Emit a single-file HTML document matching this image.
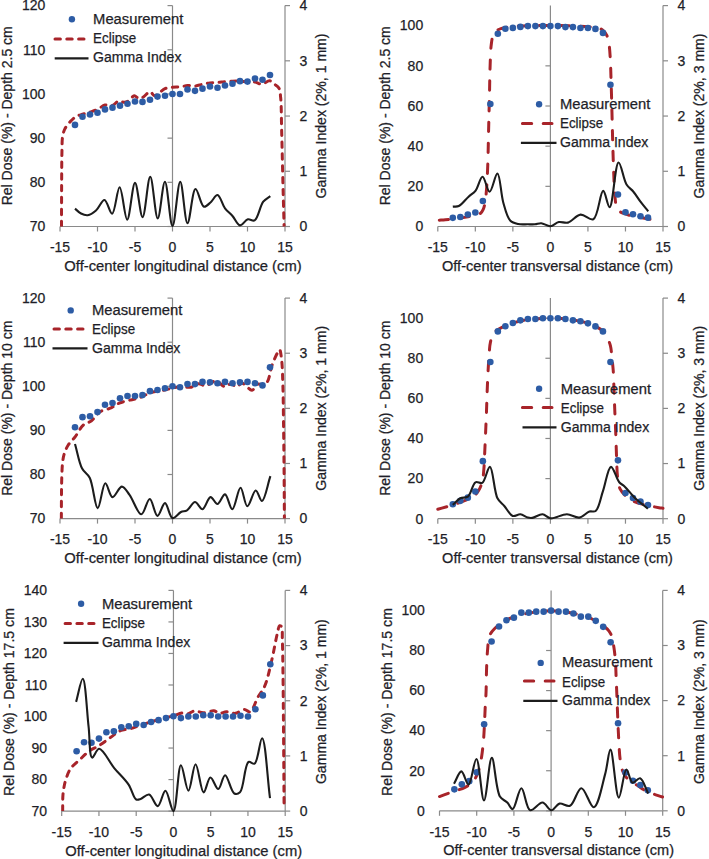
<!DOCTYPE html>
<html><head><meta charset="utf-8"><style>
html,body{margin:0;padding:0;background:#fff;}
svg{display:block;}
text{font-family:"Liberation Sans",sans-serif;stroke:#1e1e28;stroke-width:0.25px;}
</style></head><body>
<svg width="709" height="859" viewBox="0 0 709 859">
<rect width="709" height="859" fill="#fff"/>
<line x1="60.00" y1="226.50" x2="285.00" y2="226.50" stroke="#8a8a8a" stroke-width="1.2"/>
<line x1="172.50" y1="5.60" x2="172.50" y2="226.50" stroke="#8a8a8a" stroke-width="1.2"/>
<line x1="285.00" y1="5.60" x2="285.00" y2="226.50" stroke="#8a8a8a" stroke-width="1.2"/>
<line x1="60.00" y1="226.50" x2="60.00" y2="231.50" stroke="#8a8a8a" stroke-width="1.2"/>
<line x1="97.50" y1="226.50" x2="97.50" y2="231.50" stroke="#8a8a8a" stroke-width="1.2"/>
<line x1="135.00" y1="226.50" x2="135.00" y2="231.50" stroke="#8a8a8a" stroke-width="1.2"/>
<line x1="172.50" y1="226.50" x2="172.50" y2="231.50" stroke="#8a8a8a" stroke-width="1.2"/>
<line x1="210.00" y1="226.50" x2="210.00" y2="231.50" stroke="#8a8a8a" stroke-width="1.2"/>
<line x1="247.50" y1="226.50" x2="247.50" y2="231.50" stroke="#8a8a8a" stroke-width="1.2"/>
<line x1="285.00" y1="226.50" x2="285.00" y2="231.50" stroke="#8a8a8a" stroke-width="1.2"/>
<line x1="167.50" y1="226.50" x2="172.50" y2="226.50" stroke="#8a8a8a" stroke-width="1.2"/>
<line x1="167.50" y1="182.32" x2="172.50" y2="182.32" stroke="#8a8a8a" stroke-width="1.2"/>
<line x1="167.50" y1="138.14" x2="172.50" y2="138.14" stroke="#8a8a8a" stroke-width="1.2"/>
<line x1="167.50" y1="93.96" x2="172.50" y2="93.96" stroke="#8a8a8a" stroke-width="1.2"/>
<line x1="167.50" y1="49.78" x2="172.50" y2="49.78" stroke="#8a8a8a" stroke-width="1.2"/>
<line x1="167.50" y1="5.60" x2="172.50" y2="5.60" stroke="#8a8a8a" stroke-width="1.2"/>
<line x1="285.00" y1="226.50" x2="290.00" y2="226.50" stroke="#8a8a8a" stroke-width="1.2"/>
<line x1="285.00" y1="171.28" x2="290.00" y2="171.28" stroke="#8a8a8a" stroke-width="1.2"/>
<line x1="285.00" y1="116.05" x2="290.00" y2="116.05" stroke="#8a8a8a" stroke-width="1.2"/>
<line x1="285.00" y1="60.82" x2="290.00" y2="60.82" stroke="#8a8a8a" stroke-width="1.2"/>
<line x1="285.00" y1="5.60" x2="290.00" y2="5.60" stroke="#8a8a8a" stroke-width="1.2"/>
<text x="45.40" y="231.30" text-anchor="end" font-size="14" fill="#1e1e28">70</text>
<text x="45.40" y="187.12" text-anchor="end" font-size="14" fill="#1e1e28">80</text>
<text x="45.40" y="142.94" text-anchor="end" font-size="14" fill="#1e1e28">90</text>
<text x="45.40" y="98.76" text-anchor="end" font-size="14" fill="#1e1e28">100</text>
<text x="45.40" y="54.58" text-anchor="end" font-size="14" fill="#1e1e28">110</text>
<text x="45.40" y="10.40" text-anchor="end" font-size="14" fill="#1e1e28">120</text>
<text x="303.50" y="231.30" text-anchor="middle" font-size="14" fill="#1e1e28">0</text>
<text x="303.50" y="176.08" text-anchor="middle" font-size="14" fill="#1e1e28">1</text>
<text x="303.50" y="120.85" text-anchor="middle" font-size="14" fill="#1e1e28">2</text>
<text x="303.50" y="65.62" text-anchor="middle" font-size="14" fill="#1e1e28">3</text>
<text x="303.50" y="10.40" text-anchor="middle" font-size="14" fill="#1e1e28">4</text>
<text x="60.00" y="252.20" text-anchor="middle" font-size="14" fill="#1e1e28">-15</text>
<text x="97.50" y="252.20" text-anchor="middle" font-size="14" fill="#1e1e28">-10</text>
<text x="135.00" y="252.20" text-anchor="middle" font-size="14" fill="#1e1e28">-5</text>
<text x="172.50" y="252.20" text-anchor="middle" font-size="14" fill="#1e1e28">0</text>
<text x="210.00" y="252.20" text-anchor="middle" font-size="14" fill="#1e1e28">5</text>
<text x="247.50" y="252.20" text-anchor="middle" font-size="14" fill="#1e1e28">10</text>
<text x="285.00" y="252.20" text-anchor="middle" font-size="14" fill="#1e1e28">15</text>
<text x="64.30" y="270.90" text-anchor="start" font-size="14" textLength="237.4" lengthAdjust="spacingAndGlyphs" fill="#1e1e28">Off-center longitudinal distance (cm)</text>
<text x="0" y="0" transform="translate(12.10,205.30) rotate(-90)" text-anchor="start" font-size="14" textLength="179.1" lengthAdjust="spacingAndGlyphs" fill="#1e1e28">Rel Dose (%) - Depth 2.5 cm</text>
<text x="0" y="0" transform="translate(326.00,198.40) rotate(-90)" text-anchor="start" font-size="14" textLength="164.9" lengthAdjust="spacingAndGlyphs" fill="#1e1e28">Gamma Index (2%, 1 mm)</text>
<clipPath id="cliptl"><rect x="57.00" y="2.60" width="231.00" height="223.90"/></clipPath>
<path d="M61.50,226.50 C61.55,211.77 61.56,195.74 61.65,182.32 C61.72,171.09 61.72,159.86 61.95,151.39 C62.11,145.49 61.93,140.49 62.62,136.37 C63.13,133.40 63.66,131.26 64.88,128.86 C66.20,126.24 68.49,123.49 70.50,121.35 C72.29,119.44 74.13,117.68 76.20,116.49 C78.15,115.37 80.30,114.99 82.50,114.28 C84.88,113.52 87.51,112.88 90.00,112.07 C92.51,111.26 95.05,110.56 97.50,109.42 C100.06,108.23 102.40,105.63 105.00,105.00 C107.41,104.42 110.25,106.11 112.50,105.45 C114.74,104.78 116.39,101.47 118.50,101.03 C120.41,100.62 122.66,102.50 124.50,102.35 C126.13,102.23 127.53,101.51 129.00,100.59 C130.79,99.46 132.50,95.92 134.25,95.73 C135.75,95.57 137.21,98.19 138.75,98.38 C140.21,98.56 141.68,97.86 143.25,97.05 C145.37,95.96 148.00,91.69 150.00,91.75 C151.67,91.80 152.94,95.58 154.50,95.73 C155.95,95.87 157.42,94.12 159.00,93.08 C160.89,91.83 162.76,89.62 165.00,88.66 C167.26,87.69 169.99,87.63 172.50,87.33 C174.99,87.04 177.51,87.18 180.00,86.89 C182.51,86.60 184.99,85.71 187.50,85.57 C189.99,85.42 192.52,86.22 195.00,86.01 C197.52,85.79 199.99,84.76 202.50,84.24 C204.99,83.73 207.49,83.21 210.00,82.91 C212.49,82.62 215.00,82.69 217.50,82.47 C220.00,82.25 222.50,81.81 225.00,81.59 C227.50,81.37 230.00,81.22 232.50,81.15 C235.00,81.07 237.50,81.00 240.00,81.15 C242.50,81.29 245.00,81.88 247.50,82.03 C250.00,82.18 252.60,81.65 255.00,82.03 C257.34,82.40 259.44,84.36 261.75,84.24 C264.30,84.11 267.37,80.47 269.62,80.71 C271.51,80.90 272.94,82.99 274.50,84.24 C276.06,85.49 277.97,86.38 279.00,88.22 C280.29,90.51 280.23,93.46 280.65,97.49 C281.42,104.91 281.30,117.35 281.62,129.30 C282.05,144.73 282.47,165.45 282.90,182.32 C283.29,197.72 283.70,211.77 284.10,226.50" fill="none" stroke="#a8242a" stroke-width="3" stroke-linecap="round" stroke-dasharray="5.4 6.4" clip-path="url(#cliptl)"/>
<circle cx="75.00" cy="124.89" r="3.3" fill="#2d5ca5"/>
<circle cx="82.50" cy="116.71" r="3.3" fill="#2d5ca5"/>
<circle cx="90.00" cy="114.50" r="3.3" fill="#2d5ca5"/>
<circle cx="97.50" cy="112.78" r="3.3" fill="#2d5ca5"/>
<circle cx="105.00" cy="109.42" r="3.3" fill="#2d5ca5"/>
<circle cx="112.50" cy="107.66" r="3.3" fill="#2d5ca5"/>
<circle cx="120.00" cy="105.67" r="3.3" fill="#2d5ca5"/>
<circle cx="127.50" cy="103.68" r="3.3" fill="#2d5ca5"/>
<circle cx="135.00" cy="101.47" r="3.3" fill="#2d5ca5"/>
<circle cx="142.50" cy="101.91" r="3.3" fill="#2d5ca5"/>
<circle cx="150.00" cy="99.70" r="3.3" fill="#2d5ca5"/>
<circle cx="157.50" cy="96.61" r="3.3" fill="#2d5ca5"/>
<circle cx="165.00" cy="95.73" r="3.3" fill="#2d5ca5"/>
<circle cx="172.50" cy="93.96" r="3.3" fill="#2d5ca5"/>
<circle cx="180.00" cy="93.96" r="3.3" fill="#2d5ca5"/>
<circle cx="187.50" cy="89.54" r="3.3" fill="#2d5ca5"/>
<circle cx="195.00" cy="90.87" r="3.3" fill="#2d5ca5"/>
<circle cx="202.50" cy="88.66" r="3.3" fill="#2d5ca5"/>
<circle cx="210.00" cy="86.45" r="3.3" fill="#2d5ca5"/>
<circle cx="217.50" cy="87.77" r="3.3" fill="#2d5ca5"/>
<circle cx="225.00" cy="85.57" r="3.3" fill="#2d5ca5"/>
<circle cx="232.50" cy="83.80" r="3.3" fill="#2d5ca5"/>
<circle cx="240.00" cy="81.15" r="3.3" fill="#2d5ca5"/>
<circle cx="247.50" cy="81.59" r="3.3" fill="#2d5ca5"/>
<circle cx="255.00" cy="78.50" r="3.3" fill="#2d5ca5"/>
<circle cx="262.50" cy="79.82" r="3.3" fill="#2d5ca5"/>
<circle cx="270.00" cy="74.96" r="3.3" fill="#2d5ca5"/>
<path d="M75.00,208.61 C77.00,210.25 78.81,212.43 81.00,213.52 C83.08,214.56 85.45,215.50 87.75,215.18 C90.44,214.81 93.42,212.67 96.00,210.48 C99.07,207.87 101.87,199.77 104.47,199.99 C107.29,200.24 109.86,214.06 112.12,213.80 C115.12,213.45 117.22,187.24 119.62,187.29 C122.26,187.35 124.71,219.62 127.20,219.60 C129.84,219.57 132.39,182.88 135.00,182.87 C137.52,182.86 140.13,217.15 142.57,217.11 C145.22,217.07 147.72,176.79 150.22,176.80 C152.77,176.81 155.20,218.36 157.72,218.38 C160.10,218.40 162.57,181.74 164.93,181.77 C167.51,181.80 169.95,225.94 172.50,225.95 C175.05,225.95 177.69,181.77 180.23,181.77 C182.68,181.77 184.81,223.11 187.50,223.19 C189.96,223.26 192.23,189.30 195.53,188.95 C197.98,188.68 200.68,205.70 203.93,206.62 C206.02,207.21 208.59,204.01 210.75,202.20 C213.13,200.21 215.36,194.76 217.50,195.02 C220.16,195.34 222.24,204.59 225.00,208.28 C227.32,211.37 230.06,213.24 232.50,216.01 C235.07,218.93 237.30,225.07 240.00,225.40 C242.46,225.69 245.20,220.00 247.88,219.32 C250.09,218.76 252.59,221.51 254.62,220.43 C258.16,218.55 259.96,205.82 263.25,201.65 C265.42,198.90 267.95,197.97 270.30,196.13" fill="none" stroke="#1c1c1c" stroke-width="2.1" stroke-linejoin="round"/>
<circle cx="71.90" cy="19.20" r="3.2" fill="#2d5ca5"/>
<line x1="55.00" y1="38.90" x2="84.80" y2="38.90" stroke="#a8242a" stroke-width="3" stroke-linecap="round" stroke-dasharray="5.4 6.4"/>
<line x1="54.70" y1="58.30" x2="88.50" y2="58.30" stroke="#1c1c1c" stroke-width="2.2"/>
<text x="93.10" y="23.60" text-anchor="start" font-size="14" textLength="90.3" lengthAdjust="spacingAndGlyphs" fill="#1e1e28">Measurement</text>
<text x="93.10" y="43.00" text-anchor="start" font-size="14" textLength="43.1" lengthAdjust="spacingAndGlyphs" fill="#1e1e28">Eclipse</text>
<text x="93.10" y="61.60" text-anchor="start" font-size="14" textLength="88.4" lengthAdjust="spacingAndGlyphs" fill="#1e1e28">Gamma Index</text>
<line x1="437.80" y1="226.50" x2="663.00" y2="226.50" stroke="#8a8a8a" stroke-width="1.2"/>
<line x1="550.40" y1="5.60" x2="550.40" y2="226.50" stroke="#8a8a8a" stroke-width="1.2"/>
<line x1="663.00" y1="5.60" x2="663.00" y2="226.50" stroke="#8a8a8a" stroke-width="1.2"/>
<line x1="437.80" y1="226.50" x2="437.80" y2="231.50" stroke="#8a8a8a" stroke-width="1.2"/>
<line x1="475.33" y1="226.50" x2="475.33" y2="231.50" stroke="#8a8a8a" stroke-width="1.2"/>
<line x1="512.87" y1="226.50" x2="512.87" y2="231.50" stroke="#8a8a8a" stroke-width="1.2"/>
<line x1="550.40" y1="226.50" x2="550.40" y2="231.50" stroke="#8a8a8a" stroke-width="1.2"/>
<line x1="587.93" y1="226.50" x2="587.93" y2="231.50" stroke="#8a8a8a" stroke-width="1.2"/>
<line x1="625.47" y1="226.50" x2="625.47" y2="231.50" stroke="#8a8a8a" stroke-width="1.2"/>
<line x1="663.00" y1="226.50" x2="663.00" y2="231.50" stroke="#8a8a8a" stroke-width="1.2"/>
<line x1="545.40" y1="226.50" x2="550.40" y2="226.50" stroke="#8a8a8a" stroke-width="1.2"/>
<line x1="545.40" y1="186.34" x2="550.40" y2="186.34" stroke="#8a8a8a" stroke-width="1.2"/>
<line x1="545.40" y1="146.17" x2="550.40" y2="146.17" stroke="#8a8a8a" stroke-width="1.2"/>
<line x1="545.40" y1="106.01" x2="550.40" y2="106.01" stroke="#8a8a8a" stroke-width="1.2"/>
<line x1="545.40" y1="65.85" x2="550.40" y2="65.85" stroke="#8a8a8a" stroke-width="1.2"/>
<line x1="545.40" y1="25.68" x2="550.40" y2="25.68" stroke="#8a8a8a" stroke-width="1.2"/>
<line x1="663.00" y1="226.50" x2="668.00" y2="226.50" stroke="#8a8a8a" stroke-width="1.2"/>
<line x1="663.00" y1="171.28" x2="668.00" y2="171.28" stroke="#8a8a8a" stroke-width="1.2"/>
<line x1="663.00" y1="116.05" x2="668.00" y2="116.05" stroke="#8a8a8a" stroke-width="1.2"/>
<line x1="663.00" y1="60.82" x2="668.00" y2="60.82" stroke="#8a8a8a" stroke-width="1.2"/>
<line x1="663.00" y1="5.60" x2="668.00" y2="5.60" stroke="#8a8a8a" stroke-width="1.2"/>
<text x="423.20" y="231.30" text-anchor="end" font-size="14" fill="#1e1e28">0</text>
<text x="423.20" y="191.14" text-anchor="end" font-size="14" fill="#1e1e28">20</text>
<text x="423.20" y="150.97" text-anchor="end" font-size="14" fill="#1e1e28">40</text>
<text x="423.20" y="110.81" text-anchor="end" font-size="14" fill="#1e1e28">60</text>
<text x="423.20" y="70.65" text-anchor="end" font-size="14" fill="#1e1e28">80</text>
<text x="423.20" y="30.48" text-anchor="end" font-size="14" fill="#1e1e28">100</text>
<text x="681.50" y="231.30" text-anchor="middle" font-size="14" fill="#1e1e28">0</text>
<text x="681.50" y="176.08" text-anchor="middle" font-size="14" fill="#1e1e28">1</text>
<text x="681.50" y="120.85" text-anchor="middle" font-size="14" fill="#1e1e28">2</text>
<text x="681.50" y="65.62" text-anchor="middle" font-size="14" fill="#1e1e28">3</text>
<text x="681.50" y="10.40" text-anchor="middle" font-size="14" fill="#1e1e28">4</text>
<text x="437.80" y="252.20" text-anchor="middle" font-size="14" fill="#1e1e28">-15</text>
<text x="475.33" y="252.20" text-anchor="middle" font-size="14" fill="#1e1e28">-10</text>
<text x="512.87" y="252.20" text-anchor="middle" font-size="14" fill="#1e1e28">-5</text>
<text x="550.40" y="252.20" text-anchor="middle" font-size="14" fill="#1e1e28">0</text>
<text x="587.93" y="252.20" text-anchor="middle" font-size="14" fill="#1e1e28">5</text>
<text x="625.47" y="252.20" text-anchor="middle" font-size="14" fill="#1e1e28">10</text>
<text x="663.00" y="252.20" text-anchor="middle" font-size="14" fill="#1e1e28">15</text>
<text x="442.00" y="270.90" text-anchor="start" font-size="14" textLength="231.2" lengthAdjust="spacingAndGlyphs" fill="#1e1e28">Off-center transversal distance (cm)</text>
<text x="0" y="0" transform="translate(389.90,205.30) rotate(-90)" text-anchor="start" font-size="14" textLength="179.1" lengthAdjust="spacingAndGlyphs" fill="#1e1e28">Rel Dose (%) - Depth 2.5 cm</text>
<text x="0" y="0" transform="translate(704.00,198.40) rotate(-90)" text-anchor="start" font-size="14" textLength="164.9" lengthAdjust="spacingAndGlyphs" fill="#1e1e28">Gamma Index (2%, 3 mm)</text>
<clipPath id="cliptr"><rect x="434.80" y="2.60" width="231.20" height="223.90"/></clipPath>
<path d="M439.30,220.17 C441.30,220.04 443.19,219.94 445.31,219.77 C447.67,219.58 450.31,219.35 452.81,219.07 C455.32,218.79 457.82,218.43 460.32,218.07 C462.82,217.70 465.33,217.33 467.83,216.86 C470.33,216.39 473.08,215.92 475.33,215.25 C477.26,214.68 479.25,214.30 480.59,213.25 C481.80,212.29 482.51,210.97 483.22,209.43 C484.10,207.50 484.58,205.17 485.09,202.40 C485.81,198.54 486.18,193.56 486.59,188.34 C487.11,181.82 487.40,174.71 487.72,166.25 C488.15,154.86 488.39,138.52 488.70,126.09 C488.96,115.33 489.21,106.01 489.45,95.97 C489.68,85.93 489.77,74.99 490.12,65.85 C490.41,58.19 490.50,50.48 491.25,44.76 C491.77,40.78 492.08,37.23 493.35,34.72 C494.29,32.85 495.67,31.55 497.10,30.50 C498.44,29.52 500.15,29.01 501.61,28.49 C502.90,28.04 503.88,27.78 505.36,27.49 C507.42,27.08 509.93,26.76 512.87,26.49 C517.01,26.10 522.37,25.85 527.88,25.68 C534.63,25.47 542.89,25.45 550.40,25.48 C557.91,25.51 566.17,25.64 572.92,25.88 C578.43,26.08 583.79,26.35 587.93,26.69 C590.87,26.92 593.26,27.13 595.44,27.49 C597.14,27.77 598.57,27.89 599.94,28.49 C601.32,29.10 602.59,30.03 603.70,31.10 C604.86,32.22 605.89,33.43 606.70,35.12 C607.78,37.37 608.38,40.50 608.95,43.76 C609.67,47.85 609.89,52.59 610.23,57.81 C610.65,64.34 610.79,71.85 611.05,79.90 C611.37,89.61 611.68,101.50 611.95,112.03 C612.22,122.24 612.42,132.12 612.71,142.16 C612.99,152.20 613.30,163.02 613.68,172.28 C614.01,180.21 614.22,188.12 614.81,194.37 C615.24,199.00 615.37,203.39 616.46,206.42 C617.21,208.49 618.15,210.06 619.46,211.24 C620.69,212.35 622.38,212.79 623.97,213.45 C625.63,214.14 627.18,214.70 629.22,215.25 C631.95,216.00 635.79,216.65 638.98,217.26 C642.04,217.85 645.38,218.44 647.99,218.87 C649.97,219.20 651.49,219.40 653.24,219.67" fill="none" stroke="#a8242a" stroke-width="3" stroke-linecap="round" stroke-dasharray="9.3 11.5" clip-path="url(#cliptr)"/>
<circle cx="452.81" cy="217.86" r="3.3" fill="#2d5ca5"/>
<circle cx="460.32" cy="217.06" r="3.3" fill="#2d5ca5"/>
<circle cx="467.83" cy="214.45" r="3.3" fill="#2d5ca5"/>
<circle cx="475.33" cy="212.44" r="3.3" fill="#2d5ca5"/>
<circle cx="482.84" cy="201.00" r="3.3" fill="#2d5ca5"/>
<circle cx="490.35" cy="104.00" r="3.3" fill="#2d5ca5"/>
<circle cx="497.85" cy="33.71" r="3.3" fill="#2d5ca5"/>
<circle cx="505.36" cy="28.69" r="3.3" fill="#2d5ca5"/>
<circle cx="512.87" cy="27.89" r="3.3" fill="#2d5ca5"/>
<circle cx="520.37" cy="26.89" r="3.3" fill="#2d5ca5"/>
<circle cx="527.88" cy="26.08" r="3.3" fill="#2d5ca5"/>
<circle cx="535.39" cy="26.08" r="3.3" fill="#2d5ca5"/>
<circle cx="542.89" cy="26.08" r="3.3" fill="#2d5ca5"/>
<circle cx="550.40" cy="26.08" r="3.3" fill="#2d5ca5"/>
<circle cx="557.91" cy="26.08" r="3.3" fill="#2d5ca5"/>
<circle cx="565.41" cy="27.09" r="3.3" fill="#2d5ca5"/>
<circle cx="572.92" cy="27.09" r="3.3" fill="#2d5ca5"/>
<circle cx="580.43" cy="27.99" r="3.3" fill="#2d5ca5"/>
<circle cx="587.93" cy="27.99" r="3.3" fill="#2d5ca5"/>
<circle cx="595.44" cy="28.89" r="3.3" fill="#2d5ca5"/>
<circle cx="602.95" cy="32.91" r="3.3" fill="#2d5ca5"/>
<circle cx="610.45" cy="84.72" r="3.3" fill="#2d5ca5"/>
<circle cx="617.96" cy="194.57" r="3.3" fill="#2d5ca5"/>
<circle cx="625.47" cy="212.24" r="3.3" fill="#2d5ca5"/>
<circle cx="632.97" cy="214.25" r="3.3" fill="#2d5ca5"/>
<circle cx="640.48" cy="216.26" r="3.3" fill="#2d5ca5"/>
<circle cx="647.99" cy="217.66" r="3.3" fill="#2d5ca5"/>
<path d="M452.81,206.62 C454.82,206.43 456.75,207.01 458.82,206.07 C461.92,204.65 465.55,199.43 468.58,196.68 C471.09,194.40 473.53,193.31 475.63,190.60 C478.34,187.12 480.25,176.77 482.54,176.80 C484.91,176.82 487.23,191.75 489.60,191.71 C492.19,191.66 495.25,173.26 497.40,173.48 C500.05,173.76 500.87,194.31 503.33,202.75 C505.30,209.48 506.92,216.99 510.16,220.43 C512.37,222.75 515.26,223.36 518.12,224.01 C521.14,224.71 524.88,224.25 527.88,224.29 C530.44,224.33 532.72,224.49 535.01,224.29 C537.17,224.10 538.99,223.02 541.24,223.19 C544.02,223.39 547.45,226.43 550.40,226.22 C553.30,226.02 555.86,222.68 558.81,222.08 C561.72,221.50 564.81,223.45 567.97,222.63 C572.00,221.59 576.25,215.09 580.58,214.63 C584.69,214.19 589.84,220.93 593.26,219.32 C598.37,216.91 600.14,190.94 603.17,190.88 C605.48,190.83 607.59,207.36 609.63,207.17 C612.91,206.87 615.16,162.69 618.56,162.44 C621.00,162.26 623.33,179.40 626.52,184.53 C628.59,187.87 631.21,189.03 633.42,191.71 C635.88,194.67 638.03,198.39 640.48,201.65 C642.95,204.93 645.63,208.09 648.21,211.31" fill="none" stroke="#1c1c1c" stroke-width="2.1" stroke-linejoin="round"/>
<circle cx="539.10" cy="104.20" r="3.2" fill="#2d5ca5"/>
<line x1="522.40" y1="123.60" x2="552.00" y2="123.60" stroke="#a8242a" stroke-width="3" stroke-linecap="round" stroke-dasharray="9.3 11.5"/>
<line x1="520.90" y1="142.90" x2="556.50" y2="142.90" stroke="#1c1c1c" stroke-width="2.2"/>
<text x="560.00" y="109.20" text-anchor="start" font-size="14" textLength="90.3" lengthAdjust="spacingAndGlyphs" fill="#1e1e28">Measurement</text>
<text x="560.00" y="127.90" text-anchor="start" font-size="14" textLength="43.1" lengthAdjust="spacingAndGlyphs" fill="#1e1e28">Eclipse</text>
<text x="560.00" y="147.30" text-anchor="start" font-size="14" textLength="88.4" lengthAdjust="spacingAndGlyphs" fill="#1e1e28">Gamma Index</text>
<line x1="60.00" y1="518.60" x2="285.00" y2="518.60" stroke="#8a8a8a" stroke-width="1.2"/>
<line x1="172.50" y1="298.10" x2="172.50" y2="518.60" stroke="#8a8a8a" stroke-width="1.2"/>
<line x1="285.00" y1="298.10" x2="285.00" y2="518.60" stroke="#8a8a8a" stroke-width="1.2"/>
<line x1="60.00" y1="518.60" x2="60.00" y2="523.60" stroke="#8a8a8a" stroke-width="1.2"/>
<line x1="97.50" y1="518.60" x2="97.50" y2="523.60" stroke="#8a8a8a" stroke-width="1.2"/>
<line x1="135.00" y1="518.60" x2="135.00" y2="523.60" stroke="#8a8a8a" stroke-width="1.2"/>
<line x1="172.50" y1="518.60" x2="172.50" y2="523.60" stroke="#8a8a8a" stroke-width="1.2"/>
<line x1="210.00" y1="518.60" x2="210.00" y2="523.60" stroke="#8a8a8a" stroke-width="1.2"/>
<line x1="247.50" y1="518.60" x2="247.50" y2="523.60" stroke="#8a8a8a" stroke-width="1.2"/>
<line x1="285.00" y1="518.60" x2="285.00" y2="523.60" stroke="#8a8a8a" stroke-width="1.2"/>
<line x1="167.50" y1="518.60" x2="172.50" y2="518.60" stroke="#8a8a8a" stroke-width="1.2"/>
<line x1="167.50" y1="474.50" x2="172.50" y2="474.50" stroke="#8a8a8a" stroke-width="1.2"/>
<line x1="167.50" y1="430.40" x2="172.50" y2="430.40" stroke="#8a8a8a" stroke-width="1.2"/>
<line x1="167.50" y1="386.30" x2="172.50" y2="386.30" stroke="#8a8a8a" stroke-width="1.2"/>
<line x1="167.50" y1="342.20" x2="172.50" y2="342.20" stroke="#8a8a8a" stroke-width="1.2"/>
<line x1="167.50" y1="298.10" x2="172.50" y2="298.10" stroke="#8a8a8a" stroke-width="1.2"/>
<line x1="285.00" y1="518.60" x2="290.00" y2="518.60" stroke="#8a8a8a" stroke-width="1.2"/>
<line x1="285.00" y1="463.48" x2="290.00" y2="463.48" stroke="#8a8a8a" stroke-width="1.2"/>
<line x1="285.00" y1="408.35" x2="290.00" y2="408.35" stroke="#8a8a8a" stroke-width="1.2"/>
<line x1="285.00" y1="353.23" x2="290.00" y2="353.23" stroke="#8a8a8a" stroke-width="1.2"/>
<line x1="285.00" y1="298.10" x2="290.00" y2="298.10" stroke="#8a8a8a" stroke-width="1.2"/>
<text x="45.40" y="523.40" text-anchor="end" font-size="14" fill="#1e1e28">70</text>
<text x="45.40" y="479.30" text-anchor="end" font-size="14" fill="#1e1e28">80</text>
<text x="45.40" y="435.20" text-anchor="end" font-size="14" fill="#1e1e28">90</text>
<text x="45.40" y="391.10" text-anchor="end" font-size="14" fill="#1e1e28">100</text>
<text x="45.40" y="347.00" text-anchor="end" font-size="14" fill="#1e1e28">110</text>
<text x="45.40" y="302.90" text-anchor="end" font-size="14" fill="#1e1e28">120</text>
<text x="303.50" y="523.40" text-anchor="middle" font-size="14" fill="#1e1e28">0</text>
<text x="303.50" y="468.28" text-anchor="middle" font-size="14" fill="#1e1e28">1</text>
<text x="303.50" y="413.15" text-anchor="middle" font-size="14" fill="#1e1e28">2</text>
<text x="303.50" y="358.03" text-anchor="middle" font-size="14" fill="#1e1e28">3</text>
<text x="303.50" y="302.90" text-anchor="middle" font-size="14" fill="#1e1e28">4</text>
<text x="60.00" y="544.30" text-anchor="middle" font-size="14" fill="#1e1e28">-15</text>
<text x="97.50" y="544.30" text-anchor="middle" font-size="14" fill="#1e1e28">-10</text>
<text x="135.00" y="544.30" text-anchor="middle" font-size="14" fill="#1e1e28">-5</text>
<text x="172.50" y="544.30" text-anchor="middle" font-size="14" fill="#1e1e28">0</text>
<text x="210.00" y="544.30" text-anchor="middle" font-size="14" fill="#1e1e28">5</text>
<text x="247.50" y="544.30" text-anchor="middle" font-size="14" fill="#1e1e28">10</text>
<text x="285.00" y="544.30" text-anchor="middle" font-size="14" fill="#1e1e28">15</text>
<text x="64.30" y="563.00" text-anchor="start" font-size="14" textLength="237.4" lengthAdjust="spacingAndGlyphs" fill="#1e1e28">Off-center longitudinal distance (cm)</text>
<text x="0" y="0" transform="translate(12.10,495.80) rotate(-90)" text-anchor="start" font-size="14" textLength="175.2" lengthAdjust="spacingAndGlyphs" fill="#1e1e28">Rel Dose (%) - Depth  10 cm</text>
<text x="0" y="0" transform="translate(326.00,490.70) rotate(-90)" text-anchor="start" font-size="14" textLength="164.9" lengthAdjust="spacingAndGlyphs" fill="#1e1e28">Gamma Index (2%, 1 mm)</text>
<clipPath id="clipml"><rect x="57.00" y="295.10" width="231.00" height="223.50"/></clipPath>
<path d="M61.35,518.60 C61.40,509.78 61.39,500.07 61.50,492.14 C61.59,485.67 61.66,479.75 61.88,474.50 C62.04,470.27 62.13,466.59 62.55,463.03 C62.92,459.89 63.23,457.14 64.12,454.21 C65.08,451.11 66.46,447.80 68.25,444.95 C70.07,442.06 72.71,439.99 75.00,437.02 C77.70,433.51 80.13,427.89 83.25,425.11 C85.76,422.87 88.90,422.69 91.50,420.70 C94.45,418.43 96.49,414.01 99.75,411.88 C102.99,409.76 107.61,409.49 111.00,407.91 C114.04,406.50 116.19,404.35 119.25,403.06 C122.63,401.63 126.95,400.89 130.50,399.97 C133.66,399.15 136.44,398.84 139.50,397.77 C142.92,396.57 146.20,394.15 150.00,392.92 C154.14,391.57 159.46,391.16 163.50,390.27 C166.81,389.54 169.63,388.67 172.50,388.06 C175.10,387.52 177.24,386.93 180.00,386.74 C183.36,386.51 187.95,387.85 191.25,387.18 C194.08,386.61 196.29,383.81 198.75,383.65 C201.03,383.51 203.03,386.00 205.50,385.86 C208.65,385.67 212.69,380.79 216.00,381.01 C219.18,381.22 222.27,386.62 225.00,386.74 C227.17,386.84 229.08,383.60 231.00,383.65 C232.82,383.71 234.44,386.74 236.25,386.74 C238.18,386.74 240.05,383.11 242.25,383.21 C245.15,383.35 249.36,390.59 252.00,390.27 C254.16,390.01 255.27,384.91 257.25,384.10 C258.85,383.44 260.86,384.84 262.50,384.54 C264.10,384.23 265.70,383.87 267.00,382.33 C269.49,379.39 270.32,369.94 272.25,364.69 C273.87,360.28 276.04,355.42 277.50,352.78 C278.28,351.37 279.01,349.58 279.60,349.70 C280.58,349.90 281.11,355.64 281.62,359.84 C282.45,366.56 282.59,376.84 282.90,386.30 C283.26,397.21 283.32,409.16 283.50,421.58 C283.70,435.46 283.88,450.31 284.02,465.68 C284.18,482.52 284.27,500.96 284.40,518.60" fill="none" stroke="#a8242a" stroke-width="3" stroke-linecap="round" stroke-dasharray="5.4 6.4" clip-path="url(#clipml)"/>
<circle cx="75.00" cy="427.31" r="3.3" fill="#2d5ca5"/>
<circle cx="82.50" cy="417.17" r="3.3" fill="#2d5ca5"/>
<circle cx="90.00" cy="416.29" r="3.3" fill="#2d5ca5"/>
<circle cx="97.50" cy="412.10" r="3.3" fill="#2d5ca5"/>
<circle cx="105.00" cy="404.82" r="3.3" fill="#2d5ca5"/>
<circle cx="112.50" cy="403.06" r="3.3" fill="#2d5ca5"/>
<circle cx="120.00" cy="398.21" r="3.3" fill="#2d5ca5"/>
<circle cx="127.50" cy="396.00" r="3.3" fill="#2d5ca5"/>
<circle cx="135.00" cy="396.00" r="3.3" fill="#2d5ca5"/>
<circle cx="142.50" cy="395.12" r="3.3" fill="#2d5ca5"/>
<circle cx="150.00" cy="391.15" r="3.3" fill="#2d5ca5"/>
<circle cx="157.50" cy="390.05" r="3.3" fill="#2d5ca5"/>
<circle cx="165.00" cy="388.28" r="3.3" fill="#2d5ca5"/>
<circle cx="172.50" cy="386.30" r="3.3" fill="#2d5ca5"/>
<circle cx="180.00" cy="387.18" r="3.3" fill="#2d5ca5"/>
<circle cx="187.50" cy="384.10" r="3.3" fill="#2d5ca5"/>
<circle cx="195.00" cy="384.10" r="3.3" fill="#2d5ca5"/>
<circle cx="202.50" cy="381.89" r="3.3" fill="#2d5ca5"/>
<circle cx="210.00" cy="382.33" r="3.3" fill="#2d5ca5"/>
<circle cx="217.50" cy="383.21" r="3.3" fill="#2d5ca5"/>
<circle cx="225.00" cy="381.89" r="3.3" fill="#2d5ca5"/>
<circle cx="232.50" cy="383.21" r="3.3" fill="#2d5ca5"/>
<circle cx="240.00" cy="382.33" r="3.3" fill="#2d5ca5"/>
<circle cx="247.50" cy="381.89" r="3.3" fill="#2d5ca5"/>
<circle cx="255.00" cy="383.21" r="3.3" fill="#2d5ca5"/>
<circle cx="262.50" cy="385.42" r="3.3" fill="#2d5ca5"/>
<circle cx="270.00" cy="367.34" r="3.3" fill="#2d5ca5"/>
<path d="M75.00,444.02 C77.38,452.21 78.96,462.60 82.12,468.60 C84.28,472.69 87.51,473.53 89.70,477.81 C93.25,484.74 95.00,508.07 97.72,508.13 C100.21,508.17 102.45,483.58 105.30,483.32 C107.51,483.12 109.65,496.74 112.50,497.10 C115.21,497.44 118.90,486.65 121.88,486.63 C124.54,486.61 126.89,491.40 129.53,494.90 C133.27,499.86 137.75,514.37 141.30,514.30 C144.41,514.24 147.12,498.92 149.78,499.03 C152.51,499.14 154.73,515.69 157.43,515.84 C159.83,515.98 162.56,503.08 165.00,503.17 C167.59,503.26 169.40,517.29 172.50,518.05 C174.95,518.65 178.28,513.27 180.97,511.99 C183.05,510.99 184.99,511.51 186.97,510.33 C189.68,508.73 192.36,502.11 195.00,502.06 C197.50,502.02 200.04,509.48 202.43,509.23 C205.26,508.92 207.76,497.37 210.53,497.10 C212.78,496.88 215.15,504.13 217.43,503.99 C219.98,503.84 222.68,494.10 225.00,494.35 C227.70,494.63 229.89,509.33 232.28,509.23 C235.08,509.10 237.94,487.71 240.53,487.73 C242.91,487.75 244.66,506.01 247.28,506.20 C249.77,506.38 253.10,490.54 255.75,490.49 C257.94,490.44 259.97,501.17 261.98,500.96 C264.92,500.65 267.58,484.42 270.38,476.15" fill="none" stroke="#1c1c1c" stroke-width="2.1" stroke-linejoin="round"/>
<circle cx="70.70" cy="310.40" r="3.2" fill="#2d5ca5"/>
<line x1="54.00" y1="329.00" x2="83.00" y2="329.00" stroke="#a8242a" stroke-width="3" stroke-linecap="round" stroke-dasharray="5.4 6.4"/>
<line x1="52.50" y1="348.30" x2="87.50" y2="348.30" stroke="#1c1c1c" stroke-width="2.2"/>
<text x="92.00" y="314.70" text-anchor="start" font-size="14" textLength="90.3" lengthAdjust="spacingAndGlyphs" fill="#1e1e28">Measurement</text>
<text x="92.00" y="333.90" text-anchor="start" font-size="14" textLength="43.1" lengthAdjust="spacingAndGlyphs" fill="#1e1e28">Eclipse</text>
<text x="92.00" y="353.30" text-anchor="start" font-size="14" textLength="88.4" lengthAdjust="spacingAndGlyphs" fill="#1e1e28">Gamma Index</text>
<line x1="437.80" y1="518.70" x2="663.00" y2="518.70" stroke="#8a8a8a" stroke-width="1.2"/>
<line x1="550.40" y1="298.10" x2="550.40" y2="518.70" stroke="#8a8a8a" stroke-width="1.2"/>
<line x1="663.00" y1="298.10" x2="663.00" y2="518.70" stroke="#8a8a8a" stroke-width="1.2"/>
<line x1="437.80" y1="518.70" x2="437.80" y2="523.70" stroke="#8a8a8a" stroke-width="1.2"/>
<line x1="475.33" y1="518.70" x2="475.33" y2="523.70" stroke="#8a8a8a" stroke-width="1.2"/>
<line x1="512.87" y1="518.70" x2="512.87" y2="523.70" stroke="#8a8a8a" stroke-width="1.2"/>
<line x1="550.40" y1="518.70" x2="550.40" y2="523.70" stroke="#8a8a8a" stroke-width="1.2"/>
<line x1="587.93" y1="518.70" x2="587.93" y2="523.70" stroke="#8a8a8a" stroke-width="1.2"/>
<line x1="625.47" y1="518.70" x2="625.47" y2="523.70" stroke="#8a8a8a" stroke-width="1.2"/>
<line x1="663.00" y1="518.70" x2="663.00" y2="523.70" stroke="#8a8a8a" stroke-width="1.2"/>
<line x1="545.40" y1="518.70" x2="550.40" y2="518.70" stroke="#8a8a8a" stroke-width="1.2"/>
<line x1="545.40" y1="478.59" x2="550.40" y2="478.59" stroke="#8a8a8a" stroke-width="1.2"/>
<line x1="545.40" y1="438.48" x2="550.40" y2="438.48" stroke="#8a8a8a" stroke-width="1.2"/>
<line x1="545.40" y1="398.37" x2="550.40" y2="398.37" stroke="#8a8a8a" stroke-width="1.2"/>
<line x1="545.40" y1="358.26" x2="550.40" y2="358.26" stroke="#8a8a8a" stroke-width="1.2"/>
<line x1="545.40" y1="318.15" x2="550.40" y2="318.15" stroke="#8a8a8a" stroke-width="1.2"/>
<line x1="663.00" y1="518.70" x2="668.00" y2="518.70" stroke="#8a8a8a" stroke-width="1.2"/>
<line x1="663.00" y1="463.55" x2="668.00" y2="463.55" stroke="#8a8a8a" stroke-width="1.2"/>
<line x1="663.00" y1="408.40" x2="668.00" y2="408.40" stroke="#8a8a8a" stroke-width="1.2"/>
<line x1="663.00" y1="353.25" x2="668.00" y2="353.25" stroke="#8a8a8a" stroke-width="1.2"/>
<line x1="663.00" y1="298.10" x2="668.00" y2="298.10" stroke="#8a8a8a" stroke-width="1.2"/>
<text x="423.20" y="523.50" text-anchor="end" font-size="14" fill="#1e1e28">0</text>
<text x="423.20" y="483.39" text-anchor="end" font-size="14" fill="#1e1e28">20</text>
<text x="423.20" y="443.28" text-anchor="end" font-size="14" fill="#1e1e28">40</text>
<text x="423.20" y="403.17" text-anchor="end" font-size="14" fill="#1e1e28">60</text>
<text x="423.20" y="363.06" text-anchor="end" font-size="14" fill="#1e1e28">80</text>
<text x="423.20" y="322.95" text-anchor="end" font-size="14" fill="#1e1e28">100</text>
<text x="681.50" y="523.50" text-anchor="middle" font-size="14" fill="#1e1e28">0</text>
<text x="681.50" y="468.35" text-anchor="middle" font-size="14" fill="#1e1e28">1</text>
<text x="681.50" y="413.20" text-anchor="middle" font-size="14" fill="#1e1e28">2</text>
<text x="681.50" y="358.05" text-anchor="middle" font-size="14" fill="#1e1e28">3</text>
<text x="681.50" y="302.90" text-anchor="middle" font-size="14" fill="#1e1e28">4</text>
<text x="437.80" y="544.40" text-anchor="middle" font-size="14" fill="#1e1e28">-15</text>
<text x="475.33" y="544.40" text-anchor="middle" font-size="14" fill="#1e1e28">-10</text>
<text x="512.87" y="544.40" text-anchor="middle" font-size="14" fill="#1e1e28">-5</text>
<text x="550.40" y="544.40" text-anchor="middle" font-size="14" fill="#1e1e28">0</text>
<text x="587.93" y="544.40" text-anchor="middle" font-size="14" fill="#1e1e28">5</text>
<text x="625.47" y="544.40" text-anchor="middle" font-size="14" fill="#1e1e28">10</text>
<text x="663.00" y="544.40" text-anchor="middle" font-size="14" fill="#1e1e28">15</text>
<text x="442.10" y="563.10" text-anchor="start" font-size="14" textLength="230.8" lengthAdjust="spacingAndGlyphs" fill="#1e1e28">Off-center transversal distance (cm)</text>
<text x="0" y="0" transform="translate(389.90,495.80) rotate(-90)" text-anchor="start" font-size="14" textLength="175.2" lengthAdjust="spacingAndGlyphs" fill="#1e1e28">Rel Dose (%) - Depth  10 cm</text>
<text x="0" y="0" transform="translate(704.00,490.70) rotate(-90)" text-anchor="start" font-size="14" textLength="164.9" lengthAdjust="spacingAndGlyphs" fill="#1e1e28">Gamma Index (2%, 3 mm)</text>
<clipPath id="clipmr"><rect x="434.80" y="295.10" width="231.20" height="223.60"/></clipPath>
<path d="M437.80,509.27 C442.80,507.80 447.84,506.52 452.81,504.86 C457.85,503.18 463.76,501.23 467.83,499.25 C470.84,497.77 473.48,496.24 475.33,494.63 C476.68,493.47 477.44,492.41 478.34,491.02 C479.35,489.45 480.23,487.57 480.96,485.61 C481.77,483.46 482.36,481.20 482.84,478.59 C483.43,475.39 483.66,471.77 483.97,467.76 C484.35,462.77 484.52,456.79 484.79,450.92 C485.09,444.48 485.40,437.41 485.69,430.66 C485.98,423.91 486.25,417.53 486.52,410.41 C486.82,402.45 487.04,393.69 487.42,385.14 C487.81,376.32 488.24,366.12 488.85,358.26 C489.32,352.11 489.47,346.21 490.50,341.82 C491.21,338.74 492.24,336.13 493.35,334.20 C494.14,332.82 494.81,332.00 495.98,330.99 C497.49,329.68 499.63,328.55 501.98,327.38 C505.03,325.86 508.89,324.22 512.87,322.97 C517.42,321.54 522.85,320.33 527.88,319.56 C532.86,318.80 538.75,318.58 542.89,318.36 C545.82,318.20 547.90,318.15 550.40,318.15 C552.90,318.15 554.98,318.16 557.91,318.36 C562.06,318.63 567.94,319.16 572.92,319.96 C577.95,320.76 583.83,321.92 587.93,323.17 C590.91,324.08 593.00,324.89 595.44,326.18 C598.01,327.53 600.92,329.13 602.95,331.19 C604.89,333.17 606.20,335.76 607.45,338.21 C608.69,340.64 609.72,342.93 610.45,345.83 C611.36,349.42 611.49,354.13 611.95,358.26 C612.42,362.36 612.90,365.85 613.23,370.50 C613.67,376.60 613.78,384.69 614.06,391.75 C614.33,398.79 614.60,405.78 614.88,412.81 C615.17,419.88 615.50,426.73 615.78,434.07 C616.08,441.94 616.28,450.96 616.61,458.54 C616.89,465.12 616.85,471.49 617.58,476.99 C618.19,481.51 618.63,485.94 620.21,489.22 C621.50,491.89 623.44,493.75 625.47,495.64 C627.53,497.57 629.76,499.23 632.52,500.65 C635.83,502.35 640.07,503.53 644.23,504.66 C648.82,505.91 655.56,507.07 658.95,507.67 C660.71,507.98 661.65,508.07 663.00,508.27" fill="none" stroke="#a8242a" stroke-width="3" stroke-linecap="round" stroke-dasharray="9.3 11.5" clip-path="url(#clipmr)"/>
<circle cx="452.81" cy="504.26" r="3.3" fill="#2d5ca5"/>
<circle cx="460.32" cy="500.85" r="3.3" fill="#2d5ca5"/>
<circle cx="467.83" cy="497.64" r="3.3" fill="#2d5ca5"/>
<circle cx="475.33" cy="491.43" r="3.3" fill="#2d5ca5"/>
<circle cx="482.84" cy="461.14" r="3.3" fill="#2d5ca5"/>
<circle cx="490.35" cy="362.07" r="3.3" fill="#2d5ca5"/>
<circle cx="497.85" cy="331.39" r="3.3" fill="#2d5ca5"/>
<circle cx="505.36" cy="326.18" r="3.3" fill="#2d5ca5"/>
<circle cx="512.87" cy="322.97" r="3.3" fill="#2d5ca5"/>
<circle cx="520.37" cy="320.36" r="3.3" fill="#2d5ca5"/>
<circle cx="527.88" cy="319.06" r="3.3" fill="#2d5ca5"/>
<circle cx="535.39" cy="319.06" r="3.3" fill="#2d5ca5"/>
<circle cx="542.89" cy="318.25" r="3.3" fill="#2d5ca5"/>
<circle cx="550.40" cy="318.25" r="3.3" fill="#2d5ca5"/>
<circle cx="557.91" cy="318.25" r="3.3" fill="#2d5ca5"/>
<circle cx="565.41" cy="319.06" r="3.3" fill="#2d5ca5"/>
<circle cx="572.92" cy="320.36" r="3.3" fill="#2d5ca5"/>
<circle cx="580.43" cy="321.26" r="3.3" fill="#2d5ca5"/>
<circle cx="587.93" cy="323.37" r="3.3" fill="#2d5ca5"/>
<circle cx="595.44" cy="326.38" r="3.3" fill="#2d5ca5"/>
<circle cx="602.95" cy="331.39" r="3.3" fill="#2d5ca5"/>
<circle cx="610.45" cy="362.07" r="3.3" fill="#2d5ca5"/>
<circle cx="617.96" cy="460.34" r="3.3" fill="#2d5ca5"/>
<circle cx="625.47" cy="493.03" r="3.3" fill="#2d5ca5"/>
<circle cx="632.97" cy="498.04" r="3.3" fill="#2d5ca5"/>
<circle cx="640.48" cy="501.65" r="3.3" fill="#2d5ca5"/>
<circle cx="647.99" cy="505.06" r="3.3" fill="#2d5ca5"/>
<path d="M452.74,504.91 C455.27,502.71 457.61,499.66 460.32,498.29 C462.70,497.10 465.69,498.32 467.90,496.64 C471.09,494.21 472.38,484.00 475.48,482.30 C477.49,481.20 480.24,484.00 482.24,482.85 C485.47,481.00 487.63,466.62 489.90,466.86 C492.95,467.18 493.99,491.60 497.48,498.29 C499.45,502.07 501.93,503.27 504.31,506.02 C506.98,509.10 509.64,514.90 512.72,515.94 C515.10,516.75 517.87,514.03 520.37,514.29 C522.93,514.55 525.66,517.06 527.88,517.60 C529.51,517.99 530.56,518.12 532.31,517.87 C535.04,517.49 539.38,514.08 542.52,514.29 C545.36,514.48 547.21,517.94 550.40,518.31 C554.82,518.83 561.81,514.23 566.91,514.29 C571.35,514.34 575.48,518.13 579.30,517.60 C582.97,517.08 586.36,512.53 589.43,511.53 C591.67,510.80 593.85,512.37 595.67,510.98 C598.99,508.43 600.52,498.10 602.95,491.13 C605.62,483.46 607.95,467.12 610.98,466.86 C613.49,466.64 616.45,479.04 619.24,482.30 C620.92,484.28 622.45,484.42 624.34,486.16 C627.26,488.85 630.73,493.82 634.47,497.47 C638.50,501.38 643.38,505.00 647.84,508.77" fill="none" stroke="#1c1c1c" stroke-width="2.1" stroke-linejoin="round"/>
<circle cx="539.10" cy="388.80" r="3.2" fill="#2d5ca5"/>
<line x1="522.40" y1="407.60" x2="552.00" y2="407.60" stroke="#a8242a" stroke-width="3" stroke-linecap="round" stroke-dasharray="9.3 11.5"/>
<line x1="522.50" y1="427.30" x2="556.50" y2="427.30" stroke="#1c1c1c" stroke-width="2.2"/>
<text x="560.80" y="393.80" text-anchor="start" font-size="14" textLength="90.3" lengthAdjust="spacingAndGlyphs" fill="#1e1e28">Measurement</text>
<text x="560.80" y="412.50" text-anchor="start" font-size="14" textLength="43.1" lengthAdjust="spacingAndGlyphs" fill="#1e1e28">Eclipse</text>
<text x="560.80" y="431.90" text-anchor="start" font-size="14" textLength="88.4" lengthAdjust="spacingAndGlyphs" fill="#1e1e28">Gamma Index</text>
<line x1="61.70" y1="811.10" x2="285.20" y2="811.10" stroke="#8a8a8a" stroke-width="1.2"/>
<line x1="173.45" y1="590.40" x2="173.45" y2="811.10" stroke="#8a8a8a" stroke-width="1.2"/>
<line x1="285.20" y1="590.40" x2="285.20" y2="811.10" stroke="#8a8a8a" stroke-width="1.2"/>
<line x1="61.70" y1="811.10" x2="61.70" y2="816.10" stroke="#8a8a8a" stroke-width="1.2"/>
<line x1="98.95" y1="811.10" x2="98.95" y2="816.10" stroke="#8a8a8a" stroke-width="1.2"/>
<line x1="136.20" y1="811.10" x2="136.20" y2="816.10" stroke="#8a8a8a" stroke-width="1.2"/>
<line x1="173.45" y1="811.10" x2="173.45" y2="816.10" stroke="#8a8a8a" stroke-width="1.2"/>
<line x1="210.70" y1="811.10" x2="210.70" y2="816.10" stroke="#8a8a8a" stroke-width="1.2"/>
<line x1="247.95" y1="811.10" x2="247.95" y2="816.10" stroke="#8a8a8a" stroke-width="1.2"/>
<line x1="285.20" y1="811.10" x2="285.20" y2="816.10" stroke="#8a8a8a" stroke-width="1.2"/>
<line x1="168.45" y1="811.10" x2="173.45" y2="811.10" stroke="#8a8a8a" stroke-width="1.2"/>
<line x1="168.45" y1="779.57" x2="173.45" y2="779.57" stroke="#8a8a8a" stroke-width="1.2"/>
<line x1="168.45" y1="748.04" x2="173.45" y2="748.04" stroke="#8a8a8a" stroke-width="1.2"/>
<line x1="168.45" y1="716.51" x2="173.45" y2="716.51" stroke="#8a8a8a" stroke-width="1.2"/>
<line x1="168.45" y1="684.99" x2="173.45" y2="684.99" stroke="#8a8a8a" stroke-width="1.2"/>
<line x1="168.45" y1="653.46" x2="173.45" y2="653.46" stroke="#8a8a8a" stroke-width="1.2"/>
<line x1="168.45" y1="621.93" x2="173.45" y2="621.93" stroke="#8a8a8a" stroke-width="1.2"/>
<line x1="168.45" y1="590.40" x2="173.45" y2="590.40" stroke="#8a8a8a" stroke-width="1.2"/>
<line x1="285.20" y1="811.10" x2="290.20" y2="811.10" stroke="#8a8a8a" stroke-width="1.2"/>
<line x1="285.20" y1="755.92" x2="290.20" y2="755.92" stroke="#8a8a8a" stroke-width="1.2"/>
<line x1="285.20" y1="700.75" x2="290.20" y2="700.75" stroke="#8a8a8a" stroke-width="1.2"/>
<line x1="285.20" y1="645.58" x2="290.20" y2="645.58" stroke="#8a8a8a" stroke-width="1.2"/>
<line x1="285.20" y1="590.40" x2="290.20" y2="590.40" stroke="#8a8a8a" stroke-width="1.2"/>
<text x="47.10" y="815.90" text-anchor="end" font-size="14" fill="#1e1e28">70</text>
<text x="47.10" y="784.37" text-anchor="end" font-size="14" fill="#1e1e28">80</text>
<text x="47.10" y="752.84" text-anchor="end" font-size="14" fill="#1e1e28">90</text>
<text x="47.10" y="721.31" text-anchor="end" font-size="14" fill="#1e1e28">100</text>
<text x="47.10" y="689.79" text-anchor="end" font-size="14" fill="#1e1e28">110</text>
<text x="47.10" y="658.26" text-anchor="end" font-size="14" fill="#1e1e28">120</text>
<text x="47.10" y="626.73" text-anchor="end" font-size="14" fill="#1e1e28">130</text>
<text x="47.10" y="595.20" text-anchor="end" font-size="14" fill="#1e1e28">140</text>
<text x="303.70" y="815.90" text-anchor="middle" font-size="14" fill="#1e1e28">0</text>
<text x="303.70" y="760.72" text-anchor="middle" font-size="14" fill="#1e1e28">1</text>
<text x="303.70" y="705.55" text-anchor="middle" font-size="14" fill="#1e1e28">2</text>
<text x="303.70" y="650.38" text-anchor="middle" font-size="14" fill="#1e1e28">3</text>
<text x="303.70" y="595.20" text-anchor="middle" font-size="14" fill="#1e1e28">4</text>
<text x="61.70" y="836.80" text-anchor="middle" font-size="14" fill="#1e1e28">-15</text>
<text x="98.95" y="836.80" text-anchor="middle" font-size="14" fill="#1e1e28">-10</text>
<text x="136.20" y="836.80" text-anchor="middle" font-size="14" fill="#1e1e28">-5</text>
<text x="173.45" y="836.80" text-anchor="middle" font-size="14" fill="#1e1e28">0</text>
<text x="210.70" y="836.80" text-anchor="middle" font-size="14" fill="#1e1e28">5</text>
<text x="247.95" y="836.80" text-anchor="middle" font-size="14" fill="#1e1e28">10</text>
<text x="285.20" y="836.80" text-anchor="middle" font-size="14" fill="#1e1e28">15</text>
<text x="65.30" y="855.50" text-anchor="start" font-size="14" textLength="236.8" lengthAdjust="spacingAndGlyphs" fill="#1e1e28">Off-center longitudinal distance (cm)</text>
<text x="0" y="0" transform="translate(13.80,796.00) rotate(-90)" text-anchor="start" font-size="14" textLength="187.9" lengthAdjust="spacingAndGlyphs" fill="#1e1e28">Rel Dose (%) - Depth  17.5 cm</text>
<text x="0" y="0" transform="translate(326.20,784.10) rotate(-90)" text-anchor="start" font-size="14" textLength="164.9" lengthAdjust="spacingAndGlyphs" fill="#1e1e28">Gamma Index (2%, 1 mm)</text>
<clipPath id="clipbl"><rect x="58.70" y="587.40" width="229.50" height="223.70"/></clipPath>
<path d="M62.67,811.10 C62.74,806.06 62.60,800.28 62.89,795.97 C63.11,792.72 63.46,790.13 63.94,787.45 C64.37,785.01 64.74,783.09 65.57,780.52 C66.68,777.09 68.07,772.33 70.42,768.85 C72.84,765.26 76.79,762.43 80.03,759.39 C83.18,756.44 86.24,753.24 89.56,750.88 C92.64,748.69 95.88,747.60 99.17,745.52 C102.91,743.16 107.04,739.90 110.72,737.32 C114.06,734.99 116.98,732.12 120.33,730.70 C123.39,729.41 126.68,729.67 129.87,728.81 C133.21,727.91 136.48,726.47 139.93,725.34 C143.54,724.16 147.37,722.98 151.10,721.87 C154.82,720.77 158.54,719.72 162.28,718.72 C165.99,717.72 169.99,716.89 173.45,715.88 C176.51,714.99 179.35,713.34 182.02,713.05 C184.26,712.80 186.30,714.02 188.35,713.68 C190.47,713.32 192.25,711.09 194.53,710.84 C197.15,710.56 200.20,712.67 203.25,712.73 C206.60,712.79 210.87,710.49 213.83,710.84 C216.10,711.10 217.60,713.18 219.64,713.36 C221.77,713.55 223.94,711.85 226.35,711.78 C229.10,711.71 232.34,713.69 235.29,713.36 C238.35,713.02 241.68,709.61 244.37,709.58 C246.50,709.55 248.32,712.45 250.11,711.78 C253.07,710.68 255.41,701.51 258.01,696.97 C260.29,692.98 262.80,690.52 264.79,685.93 C267.59,679.45 269.51,669.56 271.57,661.02 C273.70,652.13 275.71,639.95 277.30,633.59 C278.17,630.15 278.54,626.18 279.61,625.71 C280.16,625.48 280.99,625.93 281.48,626.66 C282.73,628.56 282.14,635.18 282.37,640.85 C282.71,649.28 282.80,660.98 282.96,672.37 C283.16,685.85 283.28,701.55 283.41,716.51 C283.55,732.01 283.67,748.49 283.78,763.81 C283.89,778.29 283.98,791.97 284.08,806.06" fill="none" stroke="#a8242a" stroke-width="3" stroke-linecap="round" stroke-dasharray="5.4 6.4" clip-path="url(#clipbl)"/>
<circle cx="76.60" cy="751.20" r="3.3" fill="#2d5ca5"/>
<circle cx="84.05" cy="742.21" r="3.3" fill="#2d5ca5"/>
<circle cx="91.50" cy="742.68" r="3.3" fill="#2d5ca5"/>
<circle cx="98.95" cy="738.58" r="3.3" fill="#2d5ca5"/>
<circle cx="106.40" cy="732.28" r="3.3" fill="#2d5ca5"/>
<circle cx="113.85" cy="731.33" r="3.3" fill="#2d5ca5"/>
<circle cx="121.30" cy="727.23" r="3.3" fill="#2d5ca5"/>
<circle cx="128.75" cy="726.29" r="3.3" fill="#2d5ca5"/>
<circle cx="136.20" cy="723.92" r="3.3" fill="#2d5ca5"/>
<circle cx="143.65" cy="725.03" r="3.3" fill="#2d5ca5"/>
<circle cx="151.10" cy="722.03" r="3.3" fill="#2d5ca5"/>
<circle cx="158.55" cy="720.14" r="3.3" fill="#2d5ca5"/>
<circle cx="166.00" cy="718.09" r="3.3" fill="#2d5ca5"/>
<circle cx="173.45" cy="716.20" r="3.3" fill="#2d5ca5"/>
<circle cx="180.90" cy="718.09" r="3.3" fill="#2d5ca5"/>
<circle cx="188.35" cy="716.51" r="3.3" fill="#2d5ca5"/>
<circle cx="195.80" cy="716.51" r="3.3" fill="#2d5ca5"/>
<circle cx="203.25" cy="715.25" r="3.3" fill="#2d5ca5"/>
<circle cx="210.70" cy="715.25" r="3.3" fill="#2d5ca5"/>
<circle cx="218.15" cy="716.51" r="3.3" fill="#2d5ca5"/>
<circle cx="225.60" cy="716.51" r="3.3" fill="#2d5ca5"/>
<circle cx="233.05" cy="716.51" r="3.3" fill="#2d5ca5"/>
<circle cx="240.50" cy="715.73" r="3.3" fill="#2d5ca5"/>
<circle cx="247.95" cy="716.51" r="3.3" fill="#2d5ca5"/>
<circle cx="255.40" cy="709.26" r="3.3" fill="#2d5ca5"/>
<circle cx="262.85" cy="695.39" r="3.3" fill="#2d5ca5"/>
<circle cx="270.30" cy="664.18" r="3.3" fill="#2d5ca5"/>
<path d="M76.08,701.85 C78.31,694.13 80.91,678.53 82.78,678.68 C85.44,678.89 86.92,712.43 88.59,726.68 C89.93,738.11 89.22,756.75 92.10,757.58 C93.83,758.08 96.39,748.73 99.17,748.75 C103.27,748.78 109.18,761.94 114.22,768.06 C118.99,773.86 124.82,779.01 128.60,784.62 C131.90,789.51 133.44,798.05 136.20,799.51 C137.63,800.27 139.00,799.48 140.67,798.96 C143.10,798.20 146.49,793.96 149.09,794.55 C152.29,795.28 155.11,806.37 157.73,806.13 C160.60,805.88 162.93,790.58 165.40,790.69 C168.19,790.80 171.16,811.35 173.45,811.10 C176.77,810.74 177.94,765.49 180.90,765.30 C183.14,765.16 186.00,790.71 188.42,790.69 C190.89,790.66 193.09,764.22 195.58,764.20 C198.15,764.18 200.75,792.13 203.62,792.34 C205.77,792.50 207.84,777.66 210.40,777.44 C212.77,777.24 215.90,789.20 218.30,789.03 C220.81,788.85 222.64,775.25 225.08,775.24 C227.89,775.22 230.85,791.78 234.24,793.44 C236.06,794.34 238.27,793.91 239.98,792.34 C243.94,788.70 244.46,764.27 248.47,761.99 C250.27,760.97 252.81,764.64 254.58,763.65 C258.20,761.63 259.90,738.10 262.11,738.27 C265.43,738.53 267.37,778.18 270.00,798.13" fill="none" stroke="#1c1c1c" stroke-width="2.1" stroke-linejoin="round"/>
<circle cx="81.10" cy="603.80" r="3.2" fill="#2d5ca5"/>
<line x1="65.10" y1="623.60" x2="94.00" y2="623.60" stroke="#a8242a" stroke-width="3" stroke-linecap="round" stroke-dasharray="5.4 6.4"/>
<line x1="63.60" y1="642.90" x2="98.50" y2="642.90" stroke="#1c1c1c" stroke-width="2.2"/>
<text x="101.90" y="609.20" text-anchor="start" font-size="14" textLength="90.3" lengthAdjust="spacingAndGlyphs" fill="#1e1e28">Measurement</text>
<text x="101.90" y="627.90" text-anchor="start" font-size="14" textLength="43.1" lengthAdjust="spacingAndGlyphs" fill="#1e1e28">Eclipse</text>
<text x="101.90" y="647.30" text-anchor="start" font-size="14" textLength="88.4" lengthAdjust="spacingAndGlyphs" fill="#1e1e28">Gamma Index</text>
<line x1="439.50" y1="810.80" x2="662.70" y2="810.80" stroke="#8a8a8a" stroke-width="1.2"/>
<line x1="551.10" y1="590.40" x2="551.10" y2="810.80" stroke="#8a8a8a" stroke-width="1.2"/>
<line x1="662.70" y1="590.40" x2="662.70" y2="810.80" stroke="#8a8a8a" stroke-width="1.2"/>
<line x1="439.50" y1="810.80" x2="439.50" y2="815.80" stroke="#8a8a8a" stroke-width="1.2"/>
<line x1="476.70" y1="810.80" x2="476.70" y2="815.80" stroke="#8a8a8a" stroke-width="1.2"/>
<line x1="513.90" y1="810.80" x2="513.90" y2="815.80" stroke="#8a8a8a" stroke-width="1.2"/>
<line x1="551.10" y1="810.80" x2="551.10" y2="815.80" stroke="#8a8a8a" stroke-width="1.2"/>
<line x1="588.30" y1="810.80" x2="588.30" y2="815.80" stroke="#8a8a8a" stroke-width="1.2"/>
<line x1="625.50" y1="810.80" x2="625.50" y2="815.80" stroke="#8a8a8a" stroke-width="1.2"/>
<line x1="662.70" y1="810.80" x2="662.70" y2="815.80" stroke="#8a8a8a" stroke-width="1.2"/>
<line x1="546.10" y1="810.80" x2="551.10" y2="810.80" stroke="#8a8a8a" stroke-width="1.2"/>
<line x1="546.10" y1="770.73" x2="551.10" y2="770.73" stroke="#8a8a8a" stroke-width="1.2"/>
<line x1="546.10" y1="730.65" x2="551.10" y2="730.65" stroke="#8a8a8a" stroke-width="1.2"/>
<line x1="546.10" y1="690.58" x2="551.10" y2="690.58" stroke="#8a8a8a" stroke-width="1.2"/>
<line x1="546.10" y1="650.51" x2="551.10" y2="650.51" stroke="#8a8a8a" stroke-width="1.2"/>
<line x1="546.10" y1="610.44" x2="551.10" y2="610.44" stroke="#8a8a8a" stroke-width="1.2"/>
<line x1="662.70" y1="810.80" x2="667.70" y2="810.80" stroke="#8a8a8a" stroke-width="1.2"/>
<line x1="662.70" y1="755.70" x2="667.70" y2="755.70" stroke="#8a8a8a" stroke-width="1.2"/>
<line x1="662.70" y1="700.60" x2="667.70" y2="700.60" stroke="#8a8a8a" stroke-width="1.2"/>
<line x1="662.70" y1="645.50" x2="667.70" y2="645.50" stroke="#8a8a8a" stroke-width="1.2"/>
<line x1="662.70" y1="590.40" x2="667.70" y2="590.40" stroke="#8a8a8a" stroke-width="1.2"/>
<text x="424.90" y="815.60" text-anchor="end" font-size="14" fill="#1e1e28">0</text>
<text x="424.90" y="775.53" text-anchor="end" font-size="14" fill="#1e1e28">20</text>
<text x="424.90" y="735.45" text-anchor="end" font-size="14" fill="#1e1e28">40</text>
<text x="424.90" y="695.38" text-anchor="end" font-size="14" fill="#1e1e28">60</text>
<text x="424.90" y="655.31" text-anchor="end" font-size="14" fill="#1e1e28">80</text>
<text x="424.90" y="615.24" text-anchor="end" font-size="14" fill="#1e1e28">100</text>
<text x="681.20" y="815.60" text-anchor="middle" font-size="14" fill="#1e1e28">0</text>
<text x="681.20" y="760.50" text-anchor="middle" font-size="14" fill="#1e1e28">1</text>
<text x="681.20" y="705.40" text-anchor="middle" font-size="14" fill="#1e1e28">2</text>
<text x="681.20" y="650.30" text-anchor="middle" font-size="14" fill="#1e1e28">3</text>
<text x="681.20" y="595.20" text-anchor="middle" font-size="14" fill="#1e1e28">4</text>
<text x="439.50" y="836.50" text-anchor="middle" font-size="14" fill="#1e1e28">-15</text>
<text x="476.70" y="836.50" text-anchor="middle" font-size="14" fill="#1e1e28">-10</text>
<text x="513.90" y="836.50" text-anchor="middle" font-size="14" fill="#1e1e28">-5</text>
<text x="551.10" y="836.50" text-anchor="middle" font-size="14" fill="#1e1e28">0</text>
<text x="588.30" y="836.50" text-anchor="middle" font-size="14" fill="#1e1e28">5</text>
<text x="625.50" y="836.50" text-anchor="middle" font-size="14" fill="#1e1e28">10</text>
<text x="662.70" y="836.50" text-anchor="middle" font-size="14" fill="#1e1e28">15</text>
<text x="443.20" y="855.20" text-anchor="start" font-size="14" textLength="230.8" lengthAdjust="spacingAndGlyphs" fill="#1e1e28">Off-center transversal distance (cm)</text>
<text x="0" y="0" transform="translate(391.60,796.00) rotate(-90)" text-anchor="start" font-size="14" textLength="187.9" lengthAdjust="spacingAndGlyphs" fill="#1e1e28">Rel Dose (%) - Depth  17.5 cm</text>
<text x="0" y="0" transform="translate(703.70,784.10) rotate(-90)" text-anchor="start" font-size="14" textLength="164.9" lengthAdjust="spacingAndGlyphs" fill="#1e1e28">Gamma Index (2%, 3 mm)</text>
<clipPath id="clipbr"><rect x="436.50" y="587.40" width="229.20" height="223.40"/></clipPath>
<path d="M439.50,796.57 C443.86,794.97 448.28,793.32 452.59,791.77 C456.79,790.25 461.44,789.21 465.02,787.36 C468.09,785.77 470.91,784.05 472.98,781.75 C474.96,779.54 476.16,776.54 477.30,773.93 C478.34,771.53 478.99,769.37 479.68,766.72 C480.49,763.59 481.10,760.14 481.68,756.30 C482.40,751.63 483.02,745.77 483.47,740.67 C483.90,735.82 484.09,731.51 484.36,726.45 C484.67,720.66 484.88,713.79 485.18,707.81 C485.46,702.27 485.86,697.50 486.07,691.78 C486.33,685.20 486.28,677.47 486.52,670.55 C486.76,663.92 486.90,657.24 487.49,651.11 C488.02,645.55 488.04,639.34 489.72,635.28 C490.97,632.27 492.92,630.42 495.00,628.27 C497.22,625.98 499.80,623.89 502.74,622.06 C506.01,620.02 509.84,618.30 513.90,616.85 C518.43,615.23 523.79,613.98 528.78,613.04 C533.71,612.12 539.55,611.60 543.66,611.24 C546.56,610.98 548.62,610.84 551.10,610.84 C553.58,610.84 555.64,610.95 558.54,611.24 C562.66,611.65 568.48,612.48 573.42,613.44 C578.40,614.41 583.81,615.26 588.30,617.05 C592.42,618.69 596.35,621.52 599.46,623.46 C601.78,624.91 603.75,626.10 605.41,627.47 C606.77,628.58 607.85,629.59 608.83,630.87 C609.84,632.19 610.63,633.37 611.36,635.28 C612.52,638.31 613.29,643.42 613.97,647.70 C614.68,652.22 615.09,656.78 615.46,661.73 C615.87,667.26 615.95,673.36 616.20,679.36 C616.47,685.63 616.77,692.48 617.02,698.60 C617.24,704.18 617.39,708.95 617.61,714.63 C617.87,721.07 618.10,728.08 618.51,735.26 C618.95,743.12 619.30,753.39 620.22,759.91 C620.83,764.27 621.34,767.61 622.52,770.73 C623.52,773.35 624.41,775.33 626.39,777.54 C629.15,780.60 634.87,783.83 638.67,786.36 C641.82,788.45 644.08,790.14 647.52,791.77 C651.78,793.78 657.54,795.24 662.55,796.97" fill="none" stroke="#a8242a" stroke-width="3" stroke-linecap="round" stroke-dasharray="9.3 11.5" clip-path="url(#clipbr)"/>
<circle cx="454.38" cy="789.36" r="3.3" fill="#2d5ca5"/>
<circle cx="461.82" cy="784.35" r="3.3" fill="#2d5ca5"/>
<circle cx="469.26" cy="781.15" r="3.3" fill="#2d5ca5"/>
<circle cx="476.70" cy="772.33" r="3.3" fill="#2d5ca5"/>
<circle cx="484.14" cy="724.24" r="3.3" fill="#2d5ca5"/>
<circle cx="491.58" cy="641.49" r="3.3" fill="#2d5ca5"/>
<circle cx="499.02" cy="626.47" r="3.3" fill="#2d5ca5"/>
<circle cx="506.46" cy="620.25" r="3.3" fill="#2d5ca5"/>
<circle cx="513.90" cy="617.65" r="3.3" fill="#2d5ca5"/>
<circle cx="521.34" cy="612.64" r="3.3" fill="#2d5ca5"/>
<circle cx="528.78" cy="612.64" r="3.3" fill="#2d5ca5"/>
<circle cx="536.22" cy="611.64" r="3.3" fill="#2d5ca5"/>
<circle cx="543.66" cy="611.64" r="3.3" fill="#2d5ca5"/>
<circle cx="551.10" cy="610.64" r="3.3" fill="#2d5ca5"/>
<circle cx="558.54" cy="611.64" r="3.3" fill="#2d5ca5"/>
<circle cx="565.98" cy="611.64" r="3.3" fill="#2d5ca5"/>
<circle cx="573.42" cy="613.44" r="3.3" fill="#2d5ca5"/>
<circle cx="580.86" cy="616.65" r="3.3" fill="#2d5ca5"/>
<circle cx="588.30" cy="616.65" r="3.3" fill="#2d5ca5"/>
<circle cx="595.74" cy="620.86" r="3.3" fill="#2d5ca5"/>
<circle cx="603.18" cy="626.87" r="3.3" fill="#2d5ca5"/>
<circle cx="610.62" cy="642.29" r="3.3" fill="#2d5ca5"/>
<circle cx="618.06" cy="723.24" r="3.3" fill="#2d5ca5"/>
<circle cx="625.50" cy="772.53" r="3.3" fill="#2d5ca5"/>
<circle cx="632.94" cy="780.75" r="3.3" fill="#2d5ca5"/>
<circle cx="640.38" cy="784.95" r="3.3" fill="#2d5ca5"/>
<circle cx="647.82" cy="790.36" r="3.3" fill="#2d5ca5"/>
<path d="M454.01,783.80 C456.46,779.67 458.98,771.35 461.37,771.40 C463.82,771.45 466.31,784.84 468.52,784.63 C471.46,784.34 474.04,758.87 476.40,759.01 C479.36,759.18 481.44,800.33 483.99,800.33 C486.57,800.33 489.08,757.94 491.80,757.90 C494.40,757.87 495.68,789.48 499.91,796.47 C502.00,799.91 505.11,800.35 507.28,802.53 C509.32,804.60 510.85,809.40 512.64,809.15 C515.56,808.73 518.52,788.18 521.41,788.21 C524.37,788.24 525.97,808.87 530.19,810.25 C533.49,811.33 538.79,802.26 542.47,802.53 C545.78,802.79 548.49,810.21 551.40,810.25 C554.13,810.28 556.37,804.39 559.43,803.64 C562.55,802.87 566.81,807.17 570.00,805.84 C574.44,803.98 577.49,788.22 581.38,788.21 C585.42,788.20 590.15,807.68 593.81,807.22 C598.36,806.65 602.32,784.19 605.19,773.88 C607.60,765.23 608.62,749.60 610.47,749.64 C613.07,749.69 615.75,797.44 618.80,797.58 C621.17,797.68 623.64,769.71 626.39,769.47 C628.34,769.31 629.84,781.85 632.57,782.70 C634.67,783.35 637.83,777.65 640.08,778.29 C643.25,779.19 645.44,788.39 648.12,793.44" fill="none" stroke="#1c1c1c" stroke-width="2.1" stroke-linejoin="round"/>
<circle cx="540.70" cy="662.90" r="3.2" fill="#2d5ca5"/>
<line x1="524.40" y1="681.10" x2="554.00" y2="681.10" stroke="#a8242a" stroke-width="3" stroke-linecap="round" stroke-dasharray="9.3 11.5"/>
<line x1="523.30" y1="700.80" x2="557.50" y2="700.80" stroke="#1c1c1c" stroke-width="2.2"/>
<text x="562.00" y="666.50" text-anchor="start" font-size="14" textLength="90.3" lengthAdjust="spacingAndGlyphs" fill="#1e1e28">Measurement</text>
<text x="562.00" y="686.60" text-anchor="start" font-size="14" textLength="43.1" lengthAdjust="spacingAndGlyphs" fill="#1e1e28">Eclipse</text>
<text x="562.00" y="705.40" text-anchor="start" font-size="14" textLength="88.4" lengthAdjust="spacingAndGlyphs" fill="#1e1e28">Gamma Index</text>
</svg>
</body></html>
